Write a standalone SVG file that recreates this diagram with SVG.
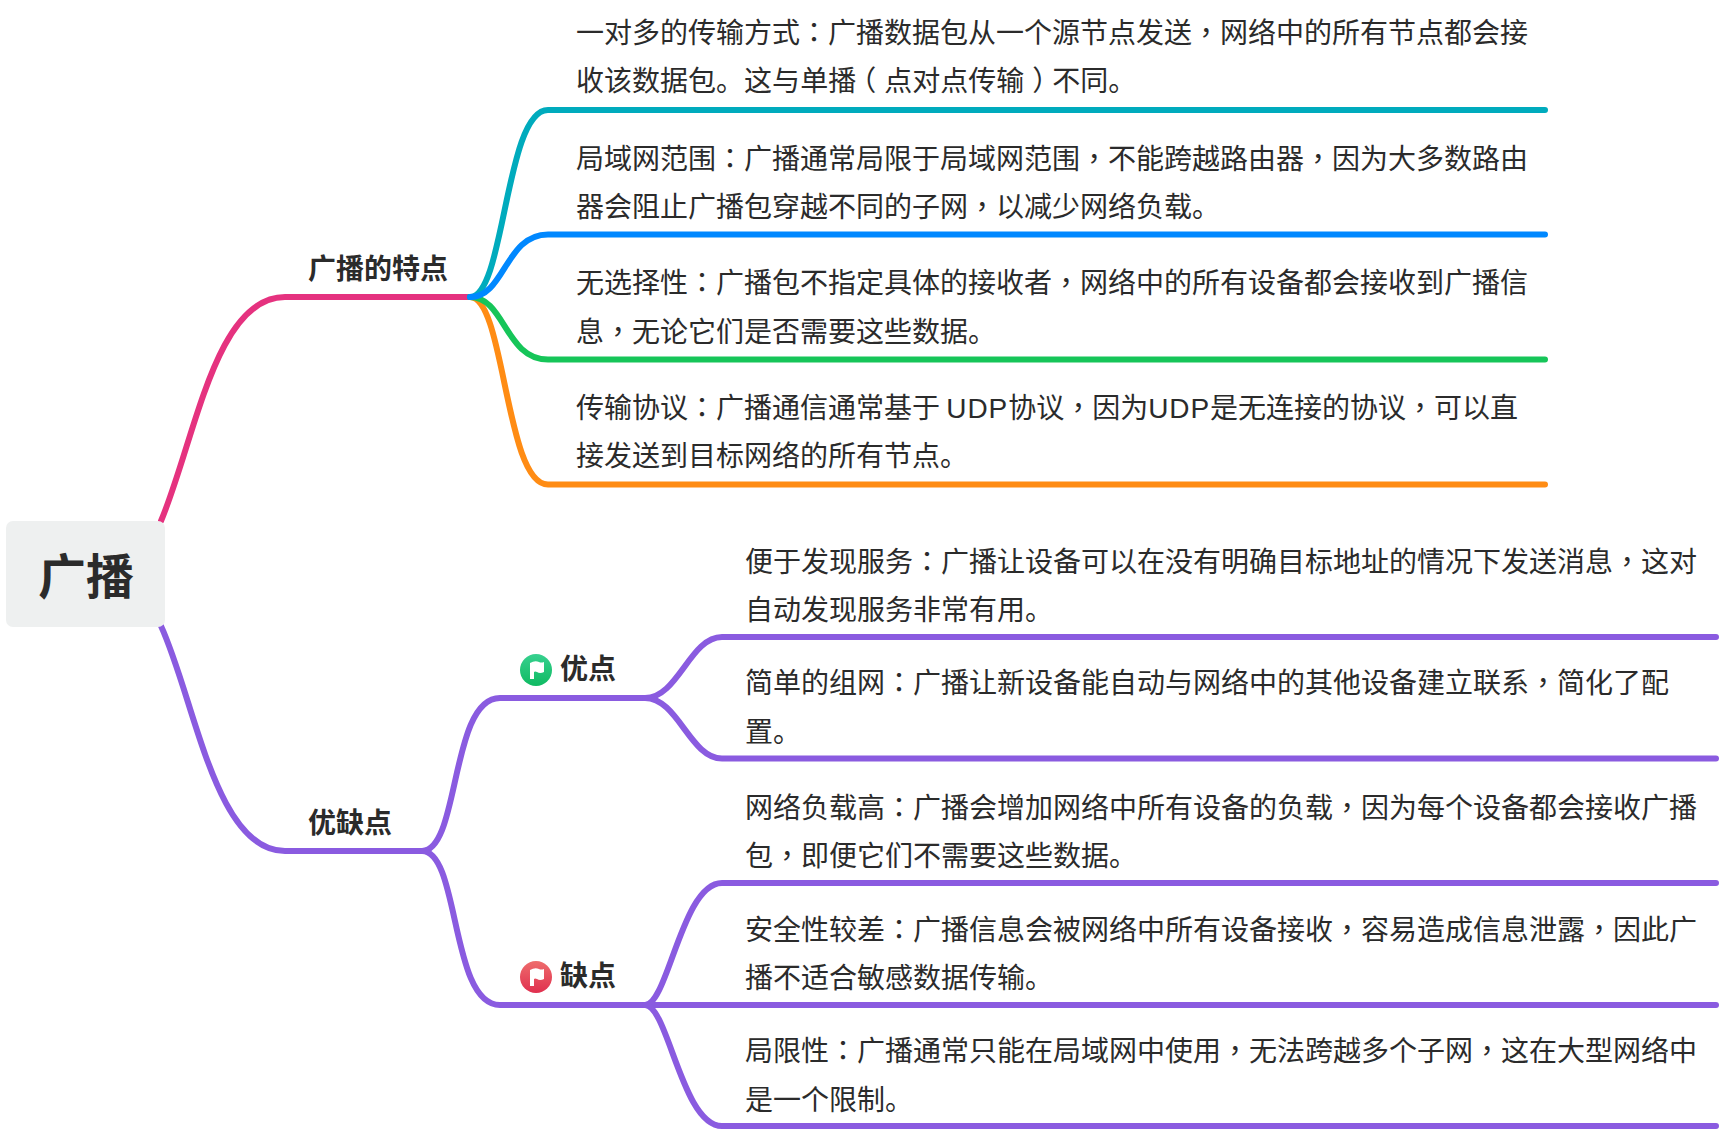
<svg xmlns="http://www.w3.org/2000/svg" width="1720" height="1130" viewBox="0 0 1720 1130">
<style>
text{font-family:"Noto Sans CJK SC","Liberation Sans",sans-serif;fill:#2b2b2b}
.l{font-size:28px}
.b{font-size:28px;font-weight:700}
.r{font-size:48px;font-weight:700}
.c{font-family:"Noto Sans CJK TC",sans-serif}
.u{font-family:"Liberation Sans",sans-serif;letter-spacing:.9px}
#connectors path{fill:none;stroke-width:6;stroke-linecap:round}
.p{stroke:#8a5be0}
</style>
<defs>
<linearGradient id="gg" x1="0" y1="0" x2="0" y2="1"><stop offset="0" stop-color="#37d08f"/><stop offset="1" stop-color="#0fba62"/></linearGradient>
<linearGradient id="rg" x1="0" y1="0" x2="0" y2="1"><stop offset="0" stop-color="#ee6c6c"/><stop offset="1" stop-color="#e0304f"/></linearGradient>
<path id="flag" d="M-6 -7Q-1 -10 3 -8Q5 -7 8 -8V2Q4 4 1 2Q-1 1 -2 2V9H-6Z" fill="#fff"/>
</defs>
<rect width="1720" height="1130" fill="#fff"/>
<g id="connectors">
<path stroke="#e5327f" d="M161 521C195 440 215 297 285 297H470"/>
<path class="p" d="M161 626C195 700 215 851 285 851H422"/>
<path stroke="#ff8c14" d="M470 297C505 297 505 484.500 548 484.500H1545"/>
<path stroke="#16c559" d="M470 297C505 297 505 359.500 548 359.500H1545"/>
<path stroke="#00abbd" d="M470 297C505 297 505 110 548 110H1545"/>
<path stroke="#0088ff" d="M470 297C505 297 505 234.500 548 234.500H1545"/>
<path class="p" d="M422 851C460 851 450 698 500 698H645"/>
<path class="p" d="M422 851C460 851 450 1005 500 1005H645"/>
<path class="p" d="M645 698C678 698 690 637 722 637H1716"/>
<path class="p" d="M645 698C678 698 690 758.500 722 758.500H1716"/>
<path class="p" d="M645 1005C668 1005 682 883 722 883H1716"/>
<path class="p" d="M645 1005H1716"/>
<path class="p" d="M645 1005C668 1005 682 1126 722 1126H1716"/>
</g>
<g id="root"><rect x="6" y="521" width="159" height="106" rx="7" fill="#eef0f0"/><text class="r" x="38" y="594">广播</text></g>
<g id="n-features"><text class="b" x="308" y="279">广播的特点</text></g>
<g id="n-proscons"><text class="b" x="308" y="833">优缺点</text></g>
<g id="n-pros"><circle cx="536" cy="670" r="16" fill="url(#gg)"/><use href="#flag" x="536" y="670"/><text class="b" x="560" y="679">优点</text></g>
<g id="n-cons"><circle cx="536" cy="977" r="16" fill="url(#rg)"/><use href="#flag" x="536" y="977"/><text class="b" x="560" y="986">缺点</text></g>
<g id="leaf1"><text class="l" x="576" y="43">一对多的传输方式<tspan class="c">：</tspan>广播数据包从一个源节点发送<tspan class="c">，</tspan>网络中的所有节点都会接</text><text class="l" x="576" y="91" dx="0 0 0 0 0 0 0 0 0 0 -8 8 0 0 0 0 8 -8">收该数据包。这与单播（点对点传输）不同。</text></g>
<g id="leaf2"><text class="l" x="576" y="169">局域网范围<tspan class="c">：</tspan>广播通常局限于局域网范围<tspan class="c">，</tspan>不能跨越路由器<tspan class="c">，</tspan>因为大多数路由</text><text class="l" x="576" y="217">器会阻止广播包穿越不同的子网<tspan class="c">，</tspan>以减少网络负载。</text></g>
<g id="leaf3"><text class="l" x="576" y="293">无选择性<tspan class="c">：</tspan>广播包不指定具体的接收者<tspan class="c">，</tspan>网络中的所有设备都会接收到广播信</text><text class="l" x="576" y="342">息<tspan class="c">，</tspan>无论它们是否需要这些数据。</text></g>
<g id="leaf4"><text class="l" x="576" y="418">传输协议<tspan class="c">：</tspan>广播通信通常基于 <tspan class="u">UDP</tspan>协议<tspan class="c">，</tspan>因为<tspan class="u">UDP</tspan>是无连接的协议<tspan class="c">，</tspan>可以直</text><text class="l" x="576" y="466">接发送到目标网络的所有节点。</text></g>
<g id="leaf5"><text class="l" x="745" y="572">便于发现服务<tspan class="c">：</tspan>广播让设备可以在没有明确目标地址的情况下发送消息<tspan class="c">，</tspan>这对</text><text class="l" x="745" y="620">自动发现服务非常有用。</text></g>
<g id="leaf6"><text class="l" x="745" y="693">简单的组网<tspan class="c">：</tspan>广播让新设备能自动与网络中的其他设备建立联系<tspan class="c">，</tspan>简化了配</text><text class="l" x="745" y="742">置。</text></g>
<g id="leaf7"><text class="l" x="745" y="818">网络负载高<tspan class="c">：</tspan>广播会增加网络中所有设备的负载<tspan class="c">，</tspan>因为每个设备都会接收广播</text><text class="l" x="745" y="866">包<tspan class="c">，</tspan>即便它们不需要这些数据。</text></g>
<g id="leaf8"><text class="l" x="745" y="940">安全性较差<tspan class="c">：</tspan>广播信息会被网络中所有设备接收<tspan class="c">，</tspan>容易造成信息泄露<tspan class="c">，</tspan>因此广</text><text class="l" x="745" y="988">播不适合敏感数据传输。</text></g>
<g id="leaf9"><text class="l" x="745" y="1061">局限性<tspan class="c">：</tspan>广播通常只能在局域网中使用<tspan class="c">，</tspan>无法跨越多个子网<tspan class="c">，</tspan>这在大型网络中</text><text class="l" x="745" y="1110">是一个限制。</text></g>
</svg>
